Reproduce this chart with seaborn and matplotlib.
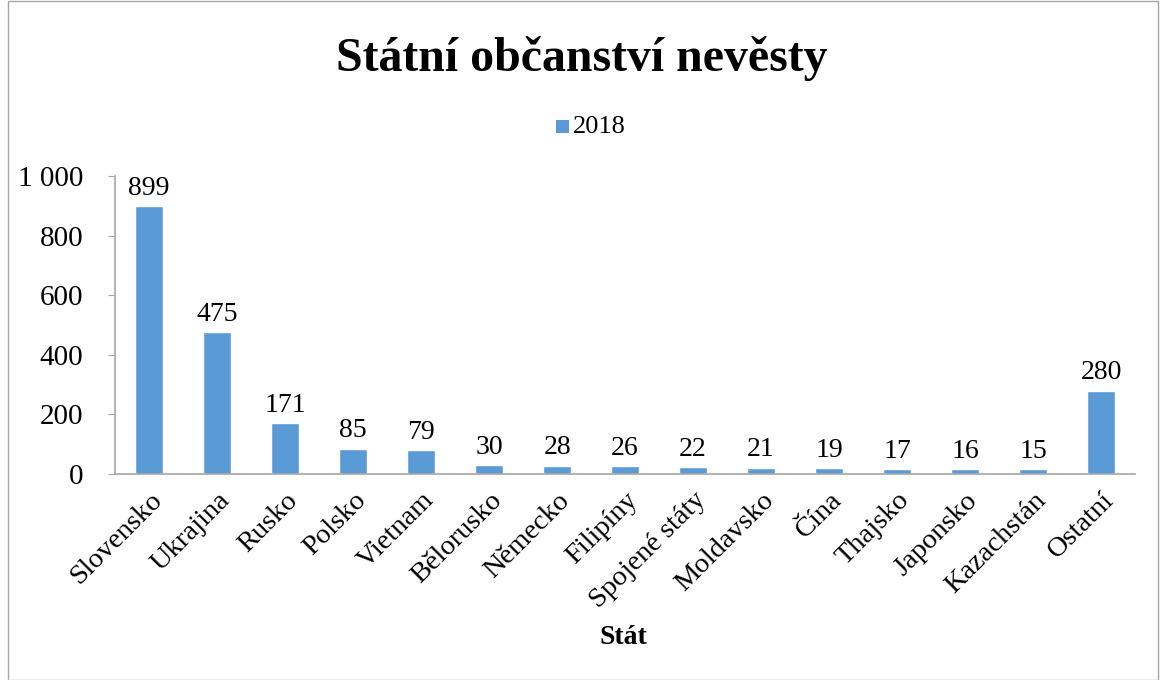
import matplotlib
matplotlib.use('Agg')
import matplotlib.pyplot as plt
import seaborn as sns
import pandas as pd
from matplotlib.patches import Rectangle

# Data
staty = ['Slovensko', 'Ukrajina', 'Rusko', 'Polsko', 'Vietnam', 'Bělorusko', 'Německo',
         'Filipíny', 'Spojené státy', 'Moldavsko', 'Čína', 'Thajsko', 'Japonsko',
         'Kazachstán', 'Ostatní']
pocty = [899, 475, 171, 85, 79, 30, 28, 26, 22, 21, 19, 17, 16, 15, 280]
yticks = [0, 200, 400, 600, 800, 1000]
yticklabels = ['0', '200', '400', '600', '800', '1 000']

df = pd.DataFrame({'Stát': staty, 'Počet': pocty, 'Rok': '2018'})

sns.set_style('white')
plt.rcParams['font.family'] = ['Liberation Serif', 'DejaVu Serif']
plt.rcParams['text.color'] = 'black'
plt.rcParams['xtick.color'] = 'black'
plt.rcParams['ytick.color'] = 'black'

fig = plt.figure(figsize=(11.63, 6.80), dpi=100)
ax = fig.add_axes([0.099, 0.303, 0.877, 0.438])

sns.barplot(data=df, x='Stát', y='Počet', hue='Rok', palette=['#5B9BD5'],
            saturation=1, width=0.41, ax=ax, legend=False)

# popisky hodnot nad sloupci
for i, v in enumerate(pocty):
    ax.text(i, v + 18, str(v), ha='center', va='bottom', fontsize=20)

ax.set_ylim(0, 1000)
ax.set_xlim(-0.5, len(staty) - 0.5)
ax.set_yticks(yticks)
ax.set_yticklabels(yticklabels, fontsize=21)
ax.set_xticks(range(len(staty)))
ax.set_xticklabels(staty, rotation=45, ha='right', rotation_mode='anchor', fontsize=20.5)
ax.tick_params(axis='y', length=5, color='#A6A6A6', pad=18, left=True)
ax.tick_params(axis='x', length=0, pad=10)
ax.set_ylabel('')
ax.set_xlabel('')
for s in ['top', 'right']:
    ax.spines[s].set_visible(False)
for s in ['left', 'bottom']:
    ax.spines[s].set_color('#A6A6A6')
    ax.spines[s].set_linewidth(1.2)

fig.text(0.5, 0.914, 'Státní občanství nevěsty', ha='center', va='center',
         fontsize=34.5, fontweight='bold')
# legenda
fig.patches.append(Rectangle((0.4785, 0.804), 0.011, 0.019, transform=fig.transFigure,
                             facecolor='#5B9BD5', edgecolor='none'))
fig.text(0.4925, 0.813, '2018', ha='left', va='center', fontsize=19)
fig.text(0.536, 0.063, 'Stát', ha='center', va='center', fontsize=20, fontweight='bold')

# rámeček grafu
fig.patches.append(Rectangle((0.007, 0.0), 0.989, 0.998, transform=fig.transFigure,
                             facecolor='none', edgecolor='#A6A6A6', linewidth=1))

fig.savefig('out.png', dpi=100)
